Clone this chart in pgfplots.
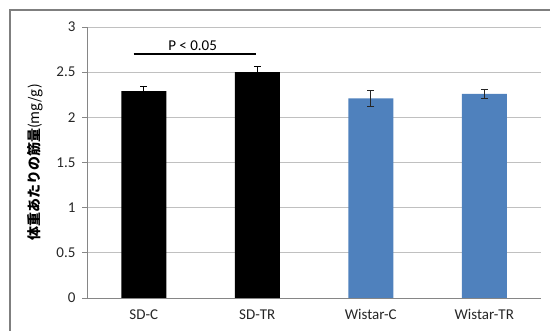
\documentclass[border=0pt]{standalone}
\usepackage{fontspec}
\setmainfont{Carlito}
\newfontfamily\jp{Noto Sans CJK JP}
\usepackage{pgfplots}
\pgfplotsset{compat=1.18}
\definecolor{barblue}{HTML}{4F81BD}
\definecolor{axgray}{HTML}{868686}
\definecolor{gridgray}{HTML}{C0C0C0}
\definecolor{framegray}{HTML}{7F7F7F}
\begin{document}
\begin{tikzpicture}
\useasboundingbox (0,0) rectangle (550bp,331bp);
\draw[framegray, line width=1.2bp] (10bp,0) -- (10bp,321bp) -- (550bp,321bp);
\begin{axis}[
  at={(87bp,33bp)}, anchor=south west,
  scale only axis, width=454bp, height=271bp,
  xmin=-0.5, xmax=3.5, ymin=0, ymax=3,
  axis x line*=bottom, axis y line*=left,
  axis line style={axgray, line width=0.8bp, -},
  xtick={0,1,2,3},
  xticklabels={SD-C,SD-TR,Wistar-C,Wistar-TR},
  major x tick style={draw=none},
  extra x ticks={-0.5,0.5,1.5,2.5,3.5},
  extra x tick labels={},
  extra x tick style={major tick length=5bp, tick align=outside, tick style={axgray, line width=0.8bp}, grid=none},
  ytick={0,0.5,1,1.5,2,2.5,3},
  yticklabels={0,0.5,1,1.5,2,2.5,3},
  ytick style={axgray, line width=0.8bp},
  major tick length=5bp, tick align=outside,
  ymajorgrids, grid style={gridgray, line width=0.8bp},
  tick label style={font=\fontsize{15bp}{17bp}\selectfont, text=black!85},
  yticklabel style={xshift=-3bp},
  xticklabel style={yshift=-3bp},
  /pgf/number format/assume math mode=true,
  ylabel={\jp{\bfseries 体重あたりの筋量}(mg/g)},
  ylabel style={at={(axis description cs:-0.115,0.5)}, anchor=center, font=\fontsize{14bp}{16bp}\selectfont},
  ybar, bar width=45bp, bar shift=0pt,
  clip=false,
]
\addplot[fill=black, draw=none,
  error bars/.cd, y dir=both, y explicit,
  error bar style={black, line width=0.8bp},
  error mark options={rotate=90, mark size=3.5bp, black, line width=0.8bp}]
  coordinates {(0,2.29) +- (0,0.05) (1,2.50) +- (0,0.06)};
\addplot[fill=barblue, draw=none,
  error bars/.cd, y dir=both, y explicit,
  error bar style={black!85, line width=0.8bp},
  error mark options={rotate=90, mark size=3.5bp, black!85, line width=0.8bp}]
  coordinates {(2,2.21) +- (0,0.085) (3,2.26) +- (0,0.05)};
\draw[black, line width=1.2bp] (axis cs:-0.09,2.70) -- (axis cs:0.99,2.70);
\node[font=\fontsize{15bp}{17bp}\selectfont, anchor=base] at (axis cs:0.43,2.74) {P < 0.05};
\end{axis}
\end{tikzpicture}
\end{document}
